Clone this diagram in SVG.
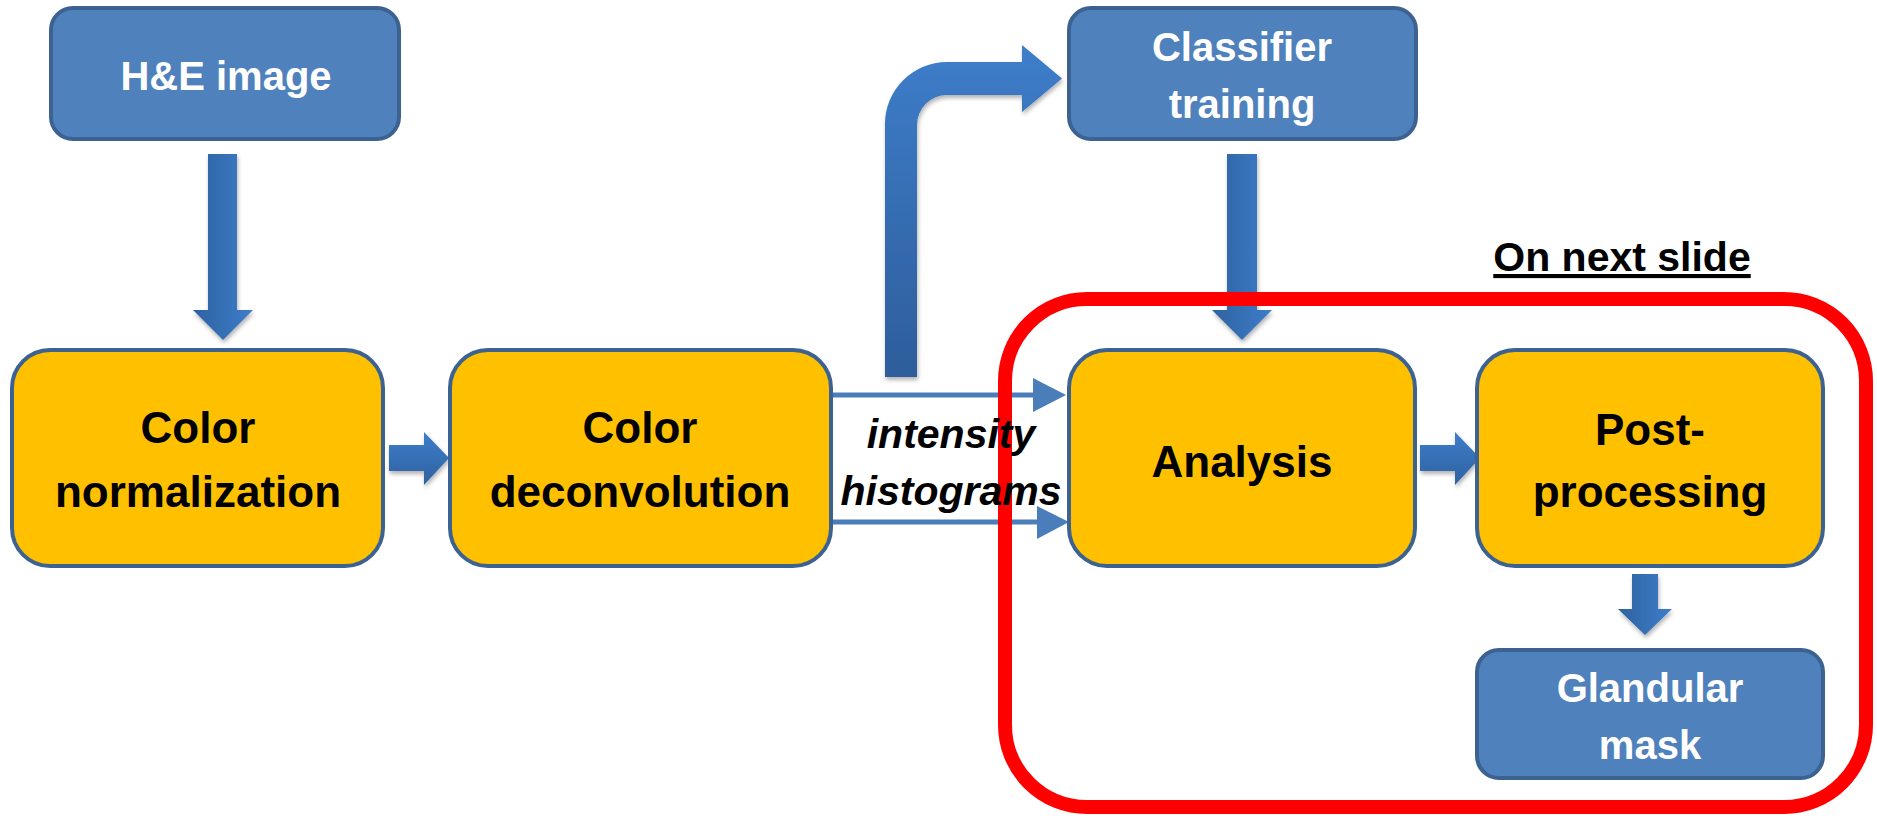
<svg xmlns="http://www.w3.org/2000/svg" width="1877" height="816" viewBox="0 0 1877 816">
<style>
.ob{fill:#FFC000;stroke:#3C6291;stroke-width:4}
.bb{fill:#4F81BD;stroke:#3C6291;stroke-width:4}
.lb{font-family:"Liberation Sans",Arial,sans-serif;font-weight:bold;font-size:44px;fill:#000;text-anchor:middle}
.lw{font-family:"Liberation Sans",Arial,sans-serif;font-weight:bold;font-size:40px;fill:#fff;text-anchor:middle}
.thin{stroke:#4A7EBB;stroke-width:5;fill:none}
.th{fill:#4A7EBB}
</style>
<defs>
<linearGradient id="gv" x1="0" y1="0" x2="1" y2="0"><stop offset="0" stop-color="#2E62A0"/><stop offset="1" stop-color="#3E7DCA"/></linearGradient>
<linearGradient id="gh" x1="0" y1="0" x2="0" y2="1"><stop offset="0" stop-color="#3E7DCA"/><stop offset="1" stop-color="#2E62A0"/></linearGradient>
<linearGradient id="gb" x1="0" y1="0" x2="0" y2="1"><stop offset="0" stop-color="#3E7DCA"/><stop offset="1" stop-color="#2D5E9B"/></linearGradient>
<filter id="sh" x="-20%" y="-20%" width="140%" height="140%"><feDropShadow dx="1" dy="3" stdDeviation="2" flood-color="#000" flood-opacity="0.3"/></filter>
</defs>

<g id="connectors">
<path filter="url(#sh)" fill="url(#gv)" d="M208 154 H237 V310 H253 L223 340 L193 310 H208 Z"/>
<path filter="url(#sh)" fill="url(#gv)" d="M1227 154 H1257 V310 H1272 L1242 340 L1212 310 H1227 Z"/>
<path filter="url(#sh)" fill="url(#gh)" d="M389 445 H424 V432 L449 458 L424 485 V471 H389 Z"/>
<path filter="url(#sh)" fill="url(#gh)" d="M1420 445 H1455 V432 L1480 458 L1455 485 V471 H1420 Z"/>
<path filter="url(#sh)" fill="url(#gv)" d="M1632 574 H1658 V609 H1672 L1645 635 L1618 609 H1632 Z"/>
<path filter="url(#sh)" fill="url(#gb)" d="M885 377 V124 A62 62 0 0 1 947 62 H1022 V45 L1062 78.5 L1022 112 V95 H947 A30 30 0 0 0 917 125 V377 Z"/>
<line class="thin" x1="831" y1="395" x2="1036" y2="395"/>
<polygon class="th" points="1033,378 1066,395 1033,412"/>
<line class="thin" x1="831" y1="522" x2="1040" y2="522"/>
<polygon class="th" points="1037,506 1069,522 1037,539"/>
</g>

<g id="group-next-slide">
<rect x="1005" y="299" width="861" height="508" rx="82" ry="82" fill="none" stroke="#FF0000" stroke-width="14"/>
<text x="1622" y="271" font-family="'Liberation Sans',Arial,sans-serif" font-weight="bold" font-size="41" text-anchor="middle" text-decoration="underline">On next slide</text>
</g>

<g id="label-intensity">
<text x="951" y="448" font-family="'Liberation Sans',Arial,sans-serif" font-weight="bold" font-style="italic" font-size="41" text-anchor="middle">intensity</text>
<text x="951" y="505" font-family="'Liberation Sans',Arial,sans-serif" font-weight="bold" font-style="italic" font-size="41" text-anchor="middle">histograms</text>
</g>

<g id="node-he">
<rect class="bb" x="51" y="8" width="348" height="131" rx="22"/>
<text class="lw" x="226" y="90">H&amp;E image</text>
</g>
<g id="node-classifier">
<rect class="bb" x="1069" y="8" width="347" height="131" rx="22"/>
<text class="lw" x="1242" y="61">Classifier</text>
<text class="lw" x="1242" y="118">training</text>
</g>
<g id="node-colornorm">
<rect class="ob" x="12" y="350" width="371" height="216" rx="38"/>
<text class="lb" x="198" y="443">Color</text>
<text class="lb" x="198" y="507">normalization</text>
</g>
<g id="node-colordeconv">
<rect class="ob" x="450" y="350" width="381" height="216" rx="38"/>
<text class="lb" x="640" y="443">Color</text>
<text class="lb" x="640" y="507">deconvolution</text>
</g>
<g id="node-analysis">
<rect class="ob" x="1069" y="350" width="346" height="216" rx="38"/>
<text class="lb" x="1242" y="477">Analysis</text>
</g>
<g id="node-postprocessing">
<rect class="ob" x="1477" y="350" width="346" height="216" rx="38"/>
<text class="lb" x="1650" y="445">Post-</text>
<text class="lb" x="1650" y="507">processing</text>
</g>
<g id="node-glandular">
<rect class="bb" x="1477" y="650" width="346" height="128" rx="22"/>
<text class="lw" x="1650" y="702">Glandular</text>
<text class="lw" x="1650" y="759">mask</text>
</g>
</svg>
